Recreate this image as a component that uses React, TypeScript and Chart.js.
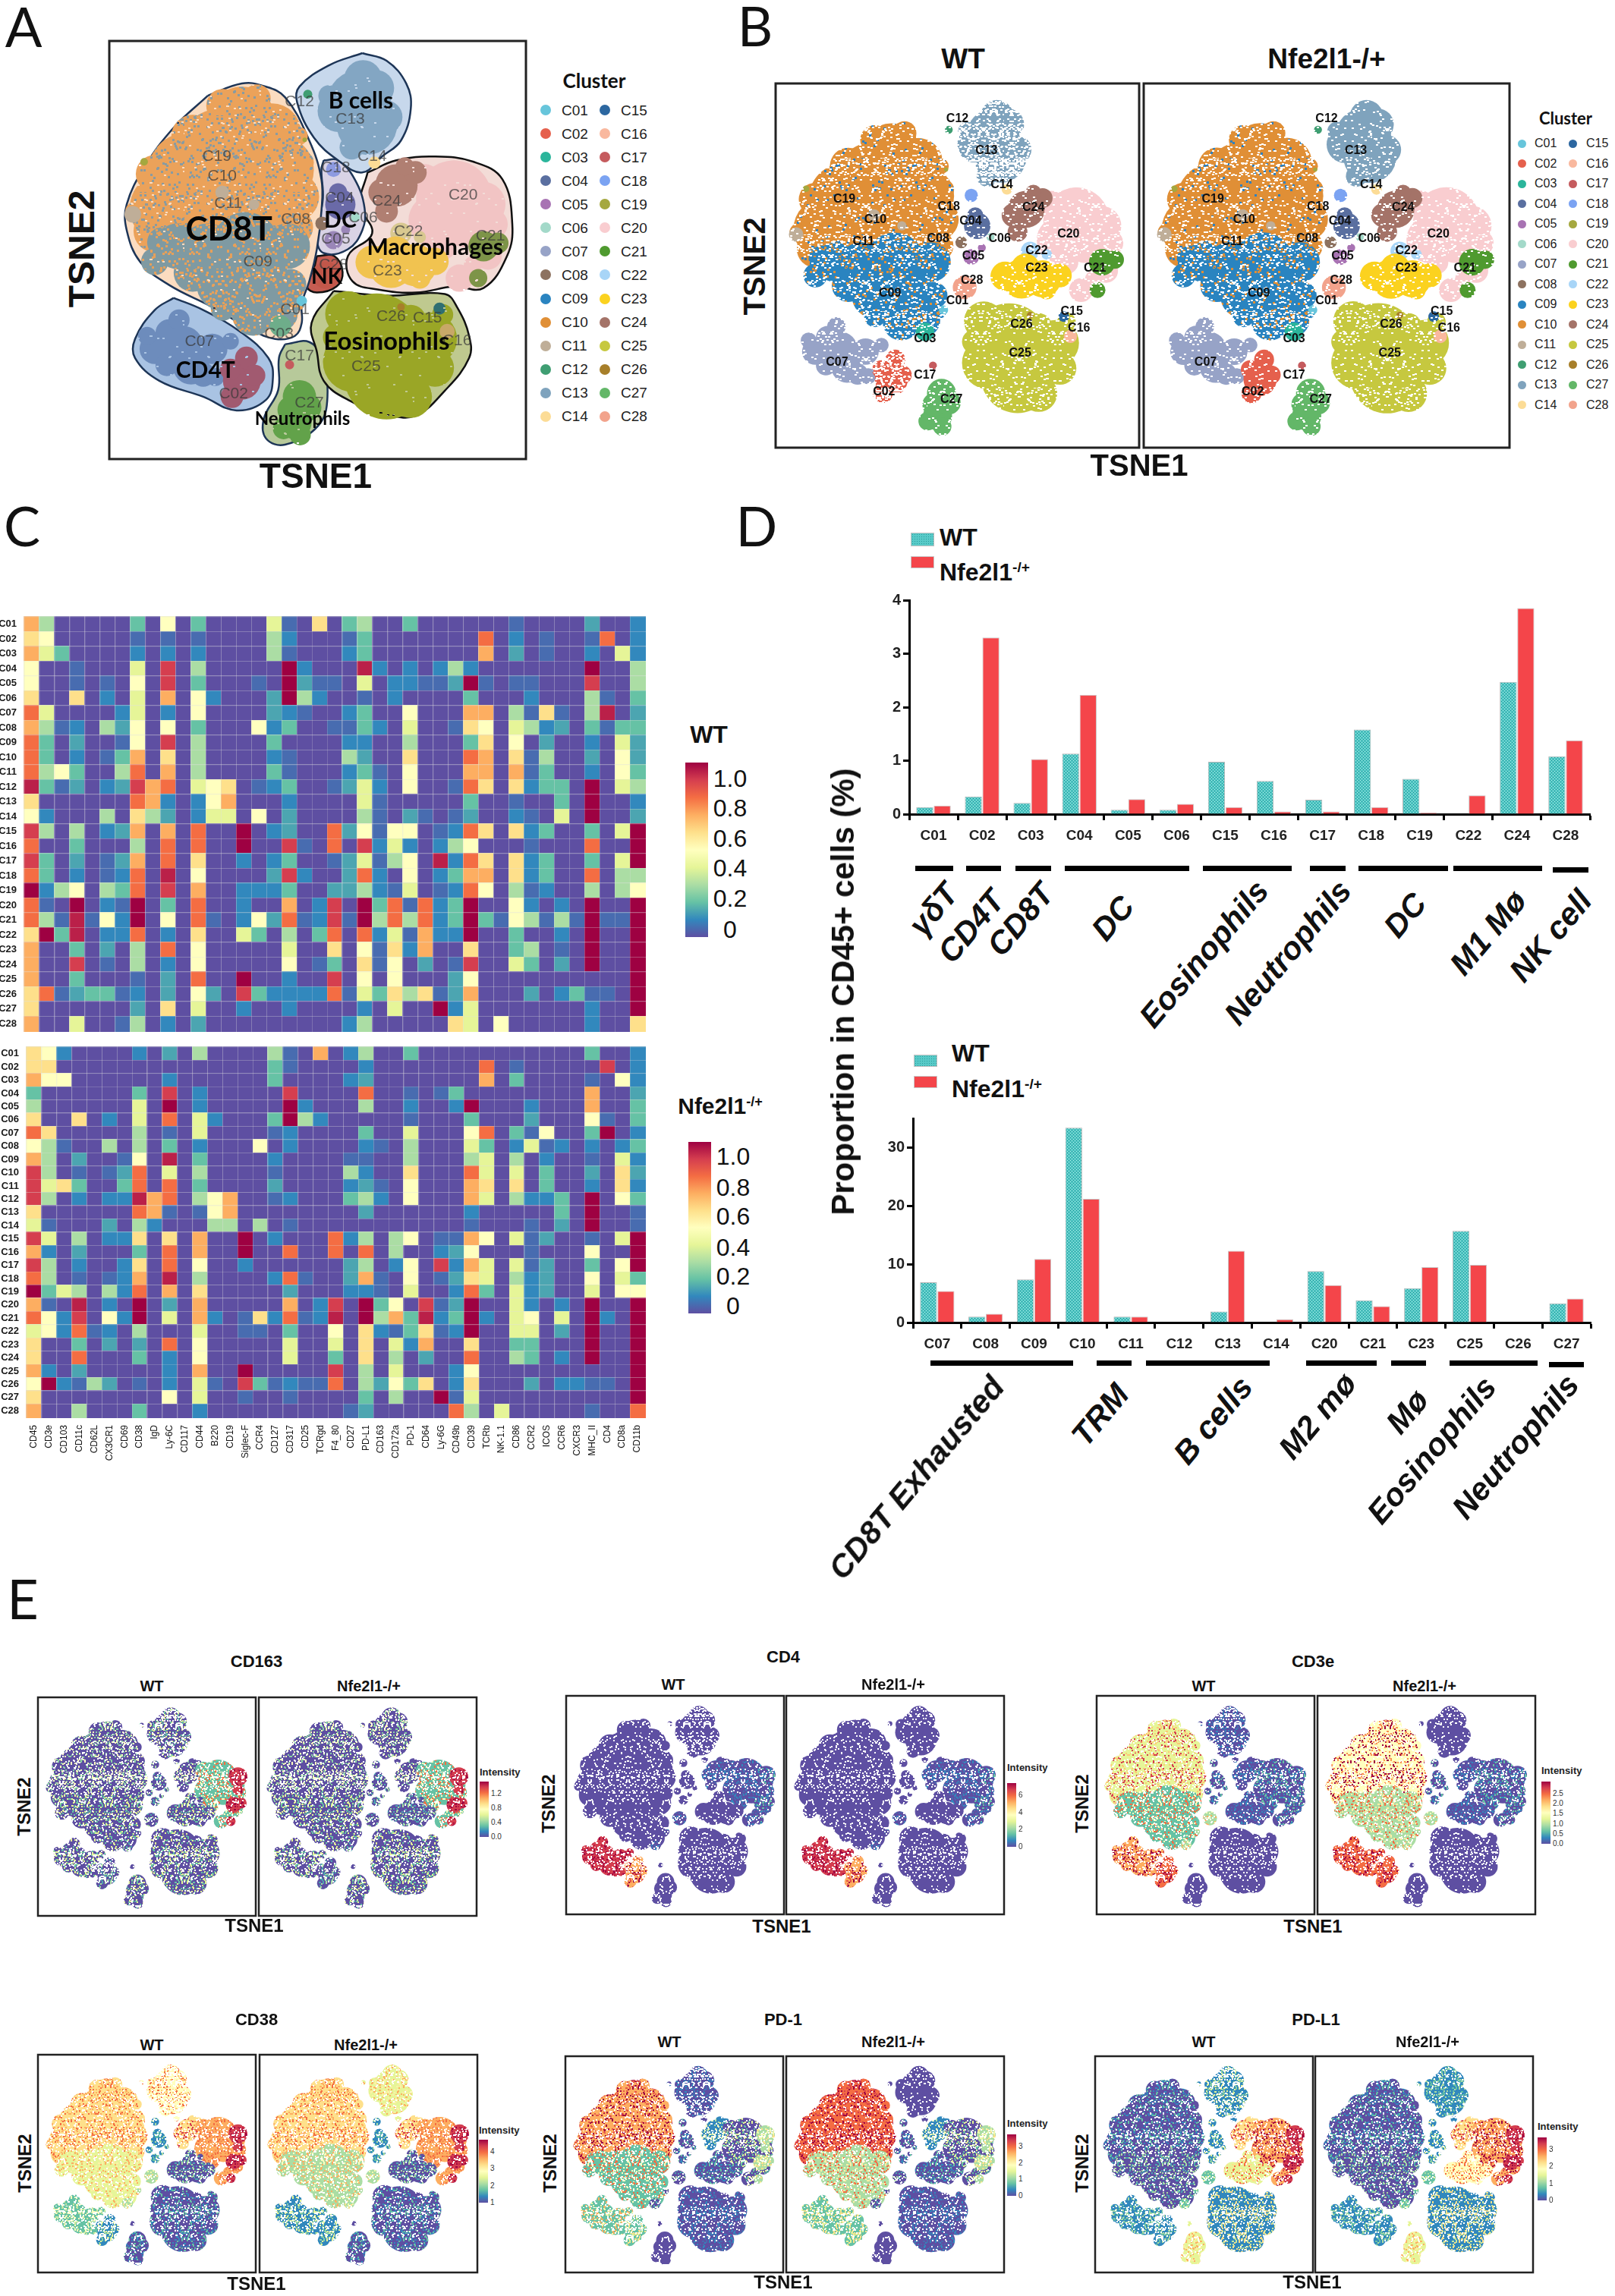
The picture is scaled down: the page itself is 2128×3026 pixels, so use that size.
import React, { useEffect, useRef } from "react";
import { Chart, registerables } from "chart.js";

Chart.register(...registerables);

const SANS = '"Liberation Sans", Arial, sans-serif';
const LATO = 'Lato, "Noto Sans", sans-serif';

/* ---------- panel C data ---------- */
const markers = ["CD45","CD3e","CD103","CD11c","CD62L","CX3CR1","CD69","CD38","IgD","Ly-6C","CD117","CD44","B220","CD19","Siglec-F","CCR4","CD127","CD317","CD25","TCRgd","F4_80","CD27","PD-L1","CD163","CD172a","PD-1","CD64","Ly-6G","CD49b","CD39","TCRb","NK-1.1","CD86","CCR2","ICOS","CCR6","CXCR3","MHC_II","CD4","CD8a","CD11b"];
const clusters = Array.from({ length: 28 }, (_, i) => "C" + String(i + 1).padStart(2, "0"));
const levelValue: Record<string, number> = { "0": 0, b: 0.05, "1": 0.1, c: 0.15, "2": 0.2, "3": 0.3, "4": 0.4, "5": 0.5, "6": 0.6, "7": 0.7, "8": 0.8, "9": 0.9, y: 0.95, x: 1 };

const heatWT = [
"73000 00205 02000 04b06 02300 20000 00b00 00c00 1",
"65000 00b0b 0b000 03100 0b200 00000 8010b 00b80 1",
"74200 00101 01000 03b00 01200 00000 70c0b 00104 1",
"500b0 00409 03000 00x10 00y10 10131 00000 00x00 3",
"500b0 b0509 02000 b0xcb b0401 1bbcx b0bb0 00900 3",
"60060 10407 05100 0cx31 00b01 00002 00010 003b0 2",
"84000 01401 05000 0c1b0 01200 50007 703b6 b03y0 c",
"73b10 3c505 02000 51200 bb210 400b6 50431 c02b2 2",
"820c0 0b509 03000 02000 01100 30002 6050c 00104 c",
"82010 b2706 03000 01b00 03c00 60008 706b3 00c05 c",
"83520 03807 03000 02b00 012b0 50007 707b2 00105 2",
"y2bc0 1c978 04560 b1200 bc410 500b8 60612 20x04 3",
"60000 00871 01570 00100 004b0 00002 00b00 20x00 1",
"51000 3063c 01440 50c00 003b0 cb0bc 001b0 40x00 c",
"93030 1c707 0800x 01c00 8c5b5 50b18 60612 00204 x",
"80020 00308 0800x 009b0 80914 10135 000b0 00800 x",
"920c0 bc708 06001 01200 bc4b3 50y18 60612 00204 x",
"82010 b180y 05000 0c910 0c810 50127 70612 00803 3",
"x1350 32809 07001 11200 cc31b 40b18 503b1 00303 5",
"8b0x0 1bx02 08001 00701 90x28 b812x 00510 10x00 x",
"83byb 51x05 08b01 5c8b1 9bx38 3812x 2b53b 3bxbb x",
"6x2y0 11801 06004 20302 80814 b711x 00200 10x00 x",
"70020 c0308 05000 00400 605b6 17006 00230 b0x00 x",
"70090 b0301 05000 0050b 206b5 0c0b9 00420 c0x00 x",
"70020 00b0c 0800x 00100 90505 000c5 00000 00000 x",
"68bc2 2b10c 05c09 21111 8b426 36bc7 000c0 12bb0 x",
"60000 00c06 04001 00100 00104 00x14 00000 00100 x",
"70040 0b301 0c000 00000 01300 00064 05000 00100 6",
].map((r) => r.replace(/ /g, ""));

const heatKO = [
"65100 0010c 03000 03b07 01300 20000 00000 00200 1",
"66000 00000 00000 02b00 00100 00000 80b00 00090 1",
"75500 00001 00000 02000 01c00 00000 70200 00b05 1",
"20000 00209 01000 00900 00800 b0b20 00000 00700 c",
"30000 0040x 01000 00x10 00300 1001x 00010 00700 2",
"60060 10408 04100 02x31 00000 b0002 000c0 005b0 2",
"86000 0030b 04000 0b100 00200 40005 802b5 002x0 1",
"53b00 30302 01000 50100 001b0 30004 2014b 10101 2",
"730c0 0b50y 02000 01000 0bb00 30003 40301 00b04 1",
"930b0 bc804 03000 0b000 03100 60008 40402 00c06 c",
"94620 02808 02000 0c000 01cb0 50007 60602 00106 1",
"93010 11y78 03570 0b100 02310 50007 40311 20x05 2",
"60000 0087b 0b570 00000 00c00 00001 00000 20x00 b",
"4b000 c0310 00330 30b00 00000 0000b 000b0 c0x00 b",
"94030 11606 0700x 01000 81303 50bb7 504bc 00b04 x",
"710c0 00208 0700x 00800 80803 001c5 000b0 00500 x",
"93010 01608 05001 00000 0c301 50917 404bc 00205 x",
"830b0 b170y 03000 018b0 0c7b0 50bc6 4031c 00504 2",
"x2430 31807 06000 00c00 011b0 40018 2041c 00405 5",
"7b0y0 10x0c 07000 00701 90x25 09bcx 00410 10x00 x",
"85190 51x04 0710b 618b1 y0x37 2y12x 10450 40x10 x",
"4518b 10300 0400b b0200 5061b 26b1x 00440 c0x00 x",
"60020 c0c08 05000 00400 40604 17006 00220 00x00 x",
"60080 00201 05000 00400 20603 0c008 00320 10x00 x",
"710c0 00001 0700x 00000 90304 00015 00000 00000 x",
"5x1b3 c0b01 04b09 2b1bb 803c5 26016 000c0 11bb0 x",
"60000 00005 0400b 00b00 00203 00xb4 00000 00000 x",
"70030 00200 01000 00000 0bc00 00083 04000 00b00 8",
].map((r) => r.replace(/ /g, ""));

/* ---------- panel D data ---------- */
const catsD1 = ["C01","C02","C03","C04","C05","C06","C15","C16","C17","C18","C19","C22","C24","C28"];
const wtD1 = [0.13,0.33,0.21,1.13,0.08,0.08,0.98,0.62,0.27,1.58,0.66,0,2.47,1.08];
const koD1 = [0.16,3.3,1.03,2.23,0.28,0.19,0.13,0.05,0.05,0.13,0.03,0.35,3.85,1.38];
const catsD2 = ["C07","C08","C09","C10","C11","C12","C13","C14","C20","C21","C23","C25","C26","C27"];
const wtD2 = [6.9,1,7.4,33.4,1,0,1.9,0,8.8,3.8,5.9,15.7,0,3.3];
const koD2 = [5.4,1.5,10.9,21.2,1,0,12.3,0.55,6.4,2.8,9.5,9.9,0,4.1];

/* ---------- tSNE map, read as circles of cells (x, y, radius in map units) ---------- */
type B = [number, number, number];
const blobsC10: B[] = [[175,105,45],[215,120,38],[150,150,62],[225,170,45],[105,175,55],[75,220,48],[150,225,68],[245,205,32],[245,245,24],[60,250,28],[115,255,30],[205,245,35],[110,125,28],[60,175,25],[255,160,15],[250,125,12],[35,225,14],[150,85,22],[195,75,18]];
const blobsC09: B[] = [[90,270,30],[130,280,40],[180,270,45],[235,270,30],[110,305,25],[150,320,35],[200,320,40],[240,320,20],[190,360,28],[225,358,24],[60,290,18],[150,352,16],[248,345,10],[70,265,20]];
const blobsC11: B[] = [[31,228,11],[149,199,9],[191,215,7]];
const blobsC19: B[] = [[46,159,5],[258,130,3]];
const blobsC13: B[] = [[335,50,25],[330,80,42],[340,110,40],[320,140,16],[303,92,28],[365,100,22],[352,62,24],[290,72,14]];
const blobsC12: B[] = [[262,70,6]];
const blobsC14: B[] = [[350,160,8]];
const blobsC18: B[] = [[296,169,10]];
const blobsC04: B[] = [[305,215,20],[302,199,12]];
const blobsC05: B[] = [[296,262,12],[312,248,6]];
const blobsC06: B[] = [[325,232,6]];
const blobsC08: B[] = [[281,240,9]];
const blobsC24: B[] = [[379,190,28],[360,199,18],[404,173,15],[366,224,15],[390,165,12]];
const blobsC20: B[] = [[455,207,50],[493,215,30],[430,236,35],[468,241,30],[417,182,20],[455,182,25],[500,283,18],[462,312,18],[506,241,20],[440,270,18],[480,295,12]];
const blobsC21: B[] = [[494,270,20],[513,266,14],[487,312,12]];
const blobsHot: B[] = [[505,200,24],[505,232,14]];
const blobsC22: B[] = [[385,253,14],[410,258,8]];
const blobsC23: B[] = [[372,295,30],[404,295,28],[347,291,22],[378,279,22],[430,290,18],[410,312,14]];
const blobsC28: B[] = [[286,308,18]];
const blobsC01: B[] = [[254,342,7]];
const blobsC03: B[] = [[226,375,14]];
const blobsC07: B[] = [[79,384,18],[92,367,14],[98,401,26],[136,405,20],[60,405,20],[124,439,16],[108,428,24],[76,426,15],[140,442,12],[160,395,11],[50,388,12]];
const blobsC02: B[] = [[175,447,25],[181,417,15],[162,468,15],[192,440,14],[160,432,14]];
const blobsC25: B[] = [[353,392,60],[315,359,30],[366,443,55],[322,422,40],[398,468,28],[424,392,35],[430,430,25],[360,359,22],[398,367,20],[300,390,18],[440,360,14],[335,455,22]];
const blobsC15: B[] = [[436,352,8]];
const blobsC16: B[] = [[446,382,10]];
const blobsC26: B[] = [[385,350,5]];
const blobsC17: B[] = [[238,426,6]];
const blobsC27: B[] = [[251,468,22],[245,502,22],[230,510,14],[262,482,18],[252,518,14],[240,485,18]];

const clusterBlobs: Record<string, B[]> = { C01: blobsC01, C02: blobsC02, C03: blobsC03, C04: blobsC04, C05: blobsC05, C06: blobsC06, C07: blobsC07, C08: blobsC08, C09: blobsC09, C10: blobsC10, C11: blobsC11, C12: blobsC12, C13: blobsC13, C14: blobsC14, C15: blobsC15, C16: blobsC16, C17: blobsC17, C18: blobsC18, C19: blobsC19, C20: blobsC20, C21: blobsC21, C22: blobsC22, C23: blobsC23, C24: blobsC24, C25: blobsC25, C26: blobsC26, C27: blobsC27, C28: blobsC28 };

const drawOrder = ["C10","C09","C11","C19","C13","C12","C14","C20","C24","C22","C23","C21","C04","C05","C06","C18","C08","C28","C01","C03","C07","C02","C25","C26","C15","C16","C17","C27"];

const legendColors: Record<string, string> = { C01:"#67c5db",C02:"#e5604d",C03:"#2bb59b",C04:"#5a6fa0",C05:"#a873b3",C06:"#a3d9c9",C07:"#97a3c7",C08:"#8d7260",C09:"#2a84c0",C10:"#e08f36",C11:"#bfae98",C12:"#3f9e72",C13:"#7fa3bd",C14:"#fcdc96",C15:"#2c67a0",C16:"#f9b89e",C17:"#c55b5e",C18:"#7ba3f2",C19:"#a5a83f",C20:"#f9cdd0",C21:"#4f9a2f",C22:"#a8d5f7",C23:"#fbd21f",C24:"#a47368",C25:"#c6c83f",C26:"#a77f2a",C27:"#63b768",C28:"#f2a38c" };
const mutedColors: Record<string, string> = { ...legendColors, C02:"#a15a70",C04:"#6a6aa8",C05:"#9a86b8",C07:"#6d8cbc",C09:"#7f9aa2",C10:"#eba25a",C13:"#83a6c3",C20:"#f2c4c4",C21:"#7d9448",C23:"#f1c350",C24:"#b07f72",C25:"#9aa626",C27:"#62a24a",C28:"#c2574a",C22:"#d8c890",C18:"#8d9ae0",C16:"#c8a868",C15:"#2f6f72",C03:"#6ead8a" };

type H = { name: string; pts: [number, number][]; fill: string; line: string };
const hulls: H[] = [
  { name: "CD8T", fill: "#fbdcc0", line: "#1d3557", pts: [[130,72],[175,56],[203,59],[232,74],[264,131],[280,182],[280,224],[274,274],[264,316],[254,346],[254,371],[245,388],[219,392],[188,380],[136,350],[79,321],[41,291],[23,249],[23,215],[47,165],[85,114],[130,72]] },
  { name: "B cells", fill: "#c7d8ec", line: "#1d3557", pts: [[334,16],[366,26],[392,56],[398,89],[385,131],[360,152],[334,173],[302,157],[270,127],[248,81],[251,60],[290,32],[334,16]] },
  { name: "DC", fill: "#d9d3e5", line: "#1d3557", pts: [[283,157],[302,157],[324,182],[337,220],[334,249],[315,274],[283,279],[274,258],[282,207],[280,169],[283,157]] },
  { name: "NK", fill: "#c65d52", line: "#111111", pts: [[274,283],[297,283],[308,304],[300,323],[274,331],[261,323],[270,300],[274,283]] },
  { name: "Macrophages", fill: "#f3dcd7", line: "#111111", pts: [[341,173],[379,157],[430,152],[481,159],[519,182],[532,241],[525,283],[494,325],[455,323],[405,331],[354,327],[321,316],[315,283],[347,253],[331,216],[341,173]] },
  { name: "Eosinophils", fill: "#bfc98f", line: "#111111", pts: [[296,329],[366,335],[443,333],[459,350],[475,388],[475,417],[443,460],[404,493],[366,491],[315,472],[283,447],[274,409],[267,371],[296,329]] },
  { name: "CD4T", fill: "#a9c3e3", line: "#1d3557", pts: [[85,338],[124,354],[175,384],[210,417],[216,443],[207,472],[168,486],[124,468],[66,447],[34,417],[34,392],[60,354],[85,338]] },
  { name: "Neutrophils", fill: "#b7c99a", line: "#1d3557", pts: [[232,399],[264,396],[280,417],[288,468],[276,506],[232,531],[207,523],[204,497],[223,459],[224,417],[232,399]] },
];

type L = [string, number, number];
const labelsA: L[] = [["C12",251,80],["C13",318,103],["C14",347,152],["C18",299,167],["C19",142,152],["C10",149,178],["C11",157,214],["C04",304,207],["C24",366,211],["C20",467,203],["C08",246,235],["C06",335,233],["C22",395,251],["C21",503,257],["C05",299,261],["C09",196,291],["C23",367,303],["C28",296,295],["C01",245,354],["C26",372,363],["C15",420,365],["C16",459,394],["C03",224,386],["C07",119,395],["C25",339,428],["C17",251,414],["C02",164,464],["C27",264,476]];
const namesA: any[] = [["CD8T",158,248,44],["B cells",332,79,30],["DC",305,236,30],["NK",287,310,28],["Macrophages",430,272,30],["Eosinophils",366,396,33],["CD4T",127,434,30],["Neutrophils",255,497,24]];
const labelsB: L[] = [["C12",275,53],["C13",319,102],["C14",342,153],["C19",104,175],["C10",151,206],["C18",262,186],["C04",295,208],["C24",390,188],["C11",133,239],["C08",246,235],["C06",339,235],["C20",443,228],["C05",299,261],["C22",395,253],["C23",395,279],["C21",483,279],["C28",297,297],["C09",173,317],["C01",275,328],["C26",372,364],["C15",448,344],["C16",459,370],["C03",226,386],["C25",370,408],["C07",93,421],["C02",164,466],["C17",226,441],["C27",266,477]];

/* ---------- panel E: low and high intensity level of each cell group ---------- */
const regionBlobs: B[][] = [
  [...blobsC10, ...blobsC11, ...blobsC19],
  blobsC09,
  [...blobsC13, ...blobsC12, ...blobsC14],
  [...blobsC04, ...blobsC05, ...blobsC06, ...blobsC18, ...blobsC08],
  blobsC24,
  blobsC20,
  [...blobsC21, ...blobsHot],
  [...blobsC23, ...blobsC22],
  [...blobsC25, ...blobsC26, ...blobsC15, ...blobsC16],
  blobsC07,
  blobsC02,
  [...blobsC27, ...blobsC17],
  [...blobsC01, ...blobsC03, ...blobsC28],
];
const cd163WT = ["05","04","04","03","05","28","9x","04","04","04","03","04","03"];
const cd163KO = ["05","04","05","03","05","28","9x","03","04","04","03","04","03"];
const cd4WT = ["00","00","00","00","01","01","02","00","00","9x","7x","00","01"];
const cd4KO = ["00","00","00","00","01","01","02","00","00","9x","7x","00","01"];
const cd3eWT = ["49","28","01","02","01","02","02","01","00","7x","8x","00","37"];
const cd3eKO = ["5x","38","00","02","01","02","02","01","00","8x","8x","00","37"];
const cd38WT = ["68","47","58","13","69","78","9x","03","02","25","14","02","36"];
const cd38KO = ["68","37","47","13","69","78","9x","03","02","14","14","02","36"];
const pd1WT = ["7x","28","01","02","15","04","36","02","01","27","26","00","03"];
const pd1KO = ["8x","38","00","02","15","04","36","02","01","26","26","00","03"];
const pdl1WT = ["02","03","14","14","69","7x","9x","48","16","13","13","47","24"];
const pdl1KO = ["02","03","13","14","69","7x","9x","58","16","13","13","47","24"];

const panelsE = [
  { name:"CD163", wt:cd163WT, ko:cd163KO, ticks:["1.2","0.8","0.4","0.0"], fx:[50,341], fw:287, fy:2237, fh:288, title:[338,2190], wl:200, kl:486, hy:2222, t1:[335,2538], t2:[32,2381], cb:[632,2336,2348,2421] },
  { name:"CD4", wt:cd4WT, ko:cd4KO, ticks:["6","4","2","0"], fx:[746,1036], fw:287, fy:2235, fh:288, title:[1032,2184], wl:887, kl:1177, hy:2220, t1:[1030,2539], t2:[723,2377], cb:[1327,2330,2350,2434] },
  { name:"CD3e", wt:cd3eWT, ko:cd3eKO, ticks:["2.5","2.0","1.5","1.0","0.5","0.0"], fx:[1445,1736], fw:287, fy:2235, fh:288, title:[1730,2190], wl:1586, kl:1877, hy:2222, t1:[1730,2539], t2:[1426,2377], cb:[2031,2334,2348,2430] },
  { name:"CD38", wt:cd38WT, ko:cd38KO, ticks:["4","3","2","1"], fx:[50,342], fw:287, fy:2708, fh:287, title:[338,2662], wl:200, kl:482, hy:2695, t1:[338,3010], t2:[33,2851], cb:[631,2808,2820,2903] },
  { name:"PD-1", wt:pd1WT, ko:pd1KO, ticks:["3","2","1","0"], fx:[745,1036], fw:287, fy:2710, fh:285, title:[1032,2662], wl:882, kl:1177, hy:2691, t1:[1032,3008], t2:[725,2851], cb:[1327,2799,2813,2894] },
  { name:"PD-L1", wt:pdl1WT, ko:pdl1KO, ticks:["3","2","1","0"], fx:[1443,1733], fw:287, fy:2710, fh:285, title:[1734,2662], wl:1586, kl:1881, hy:2691, t1:[1729,3008], t2:[1426,2851], cb:[2026,2803,2817,2900] },
];

/* ---------- helpers ---------- */
const spectral = ["#5e4fa2","#3288bd","#66c2a5","#abdda4","#e6f598","#ffffbf","#fee08b","#fdae61","#f46d43","#d53e4f","#9e0142"];
function hex(c: string) { return [1, 3, 5].map((i) => parseInt(c.slice(i, i + 2), 16)); }
function levelColor(v: number) {
  const p = Math.min(Math.max(v, 0), 1) * 10;
  const i = Math.min(Math.floor(p), 9);
  const a = hex(spectral[i]), b = hex(spectral[i + 1]);
  const t = p - i;
  return `rgb(${a.map((q, k) => Math.round(q + (b[k] - q) * t)).join(",")})`;
}
const TILE = 101;
const patternCache: Record<string, CanvasPattern> = {};
/* fill texture only: a fixed stipple that gives the look of many single cells */
function speckle(lo: string, hi: string, gaps: number, accents: number, mid: string = hi, dot = 3, gapW = 3) {
  const key = [lo, hi, mid, gaps, accents, dot, gapW].join("|");
  if (patternCache[key]) return patternCache[key];
  const c = document.createElement("canvas");
  c.width = TILE; c.height = TILE;
  const g = c.getContext("2d")!;
  g.fillStyle = lo; g.fillRect(0, 0, TILE, TILE);
  for (let i = 0; i < accents * 7; i++) {
    g.fillStyle = i % 2 ? hi : mid;
    g.fillRect((i * 41 + 3) % TILE, ((i * i * 7 + i) % 211) % TILE, dot, dot);
  }
  for (let i = 0; i < gaps * 7; i++) g.clearRect((i * 59 + 21) % TILE, ((i * i * 11 + i * 3) % 223) % TILE, gapW, 2);
  return (patternCache[key] = g.createPattern(c, "repeat")!);
}
const heatTiles: Record<string, HTMLCanvasElement> = {};
function heatTile(v: number, w: number, h: number) {
  const key = `${v}|${w}|${h}`;
  if (heatTiles[key]) return heatTiles[key];
  const c = document.createElement("canvas");
  c.width = w; c.height = h;
  const g = c.getContext("2d")!;
  g.fillStyle = levelColor(v); g.fillRect(0, 0, w, h);
  g.fillStyle = "rgba(225,225,225,0.42)";
  g.fillRect(0, 0, w, 1); g.fillRect(0, 0, 1, h);
  return (heatTiles[key] = c);
}

function useChart(make: (c: HTMLCanvasElement) => any) {
  const ref = useRef<HTMLCanvasElement>(null);
  useEffect(() => {
    const chart = new Chart(ref.current!, make(ref.current!));
    return () => chart.destroy();
  }, []);
  return ref;
}

function T({ x, y, size, weight = 400, family = SANS, rot = 0, italic = false, color = "#111", children, end = false }: any) {
  const transform = end ? `translate(-100%,-50%) rotate(${rot}deg)` : `translate(-50%,-50%) rotate(${rot}deg)`;
  return (
    <div style={{ position: "absolute", left: x, top: y, fontSize: size, fontWeight: weight, fontFamily: family, fontStyle: italic ? "italic" : "normal", color, whiteSpace: "nowrap", lineHeight: 1, transform, transformOrigin: end ? "100% 50%" : "50% 50%" }}>{children}</div>
  );
}
const Sup = ({ children }: any) => <sup style={{ fontSize: "0.6em", verticalAlign: "0.55em", lineHeight: 0 }}>{children}</sup>;

/* ---------- tSNE panel ---------- */
function Tsne({ left, top, size, heightPx, layers, outline, labels, names, labelFont, labelColor, frame = 3 }: any) {
  const ref = useChart(() => {
    const k = (size - 4) / 550;
    const ds: any[] = [];
    (outline || []).forEach((h: H) => ds.push({ type: "line", order: 1000, data: h.pts.map(([x, y]) => ({ x, y })), backgroundColor: h.fill, borderColor: h.line, borderWidth: 2.5, pointRadius: 0, tension: 0.4, fill: "shape" }));
    layers.forEach((l: any, i: number) => ds.push({ type: "bubble", order: 500 - i, data: l.blobs.map(([x, y, r]: B) => ({ x, y, r: r * k })), backgroundColor: l.fill, borderWidth: 0, clip: false }));
    return {
      type: "bubble",
      data: { datasets: ds },
      options: {
        responsive: false, animation: false, events: [],
        layout: { padding: 2, autoPadding: false },
        plugins: { legend: { display: false }, tooltip: { enabled: false } },
        scales: {
          x: { type: "linear", min: 0, max: 550, display: false },
          y: { type: "linear", min: 0, max: 550, reverse: true, display: false },
        },
      },
      plugins: [{
        id: "panelDecor",
        afterDatasetsDraw(chart: any) {
          const { ctx, chartArea: a, scales: { x, y } } = chart;
          ctx.save();
          ctx.strokeStyle = "#222"; ctx.lineWidth = frame;
          ctx.strokeRect(a.left, a.top, a.right - a.left, a.bottom - a.top);
          ctx.textAlign = "center"; ctx.textBaseline = "middle";
          if (labels) {
            ctx.font = labelFont; ctx.fillStyle = labelColor;
            labels.forEach(([t, px, py]: L) => ctx.fillText(t, x.getPixelForValue(px), y.getPixelForValue(py)));
          }
          if (names) {
            ctx.fillStyle = "#050505";
            names.forEach(([t, px, py, s]: any) => { ctx.font = `700 ${s}px ${LATO}`; ctx.fillText(t, x.getPixelForValue(px), y.getPixelForValue(py)); });
          }
          ctx.restore();
        },
      }],
    };
  });
  return <canvas ref={ref} width={size} height={heightPx} style={{ position: "absolute", left, top, width: size, height: heightPx }} />;
}

function layersA() {
  return drawOrder.map((c) => ({
    blobs: clusterBlobs[c],
    fill: c === "C10" ? speckle(mutedColors.C10, "#8a9ba0", 8, 26) : c === "C09" ? speckle(mutedColors.C09, "#e6a05a", 4, 34) : speckle(mutedColors[c], mutedColors[c], 4, 0),
  }));
}
function layersB(ko: boolean) {
  const sparseWT = ["C13", "C02"];
  return drawOrder.map((c) => {
    const sparse = !ko && sparseWT.includes(c);
    const col = legendColors[c];
    const fill = c === "C10" ? speckle(col, "#2f81bf", 46, 8) : c === "C09" ? speckle(col, "#e08f36", 60, 18) : speckle(col, col, sparse ? 150 : 34, 0);
    return { blobs: clusterBlobs[c], fill };
  });
}
function layersE(levels: string[], ko: boolean) {
  return regionBlobs.map((blobs, i) => {
    const a = levelValue[levels[i][0]];
    const b = levelValue[levels[i][1]];
    const lo = levelColor(a);
    const hi = levelColor(b);
    const mid = levelColor((a + b) / 2);
    const sparse = !ko && (i === 2 || i === 10);
    return { blobs, fill: speckle(lo, hi, sparse ? 170 : 70, a === b ? 0 : 130, mid, 2, 2) };
  });
}

/* ---------- heatmap ---------- */
function Heat({ top, rows, rowH, yW, showX, title }: any) {
  const plotH = rowH * 28;
  const axisH = showX ? 100 : 0;
  const padT = 3;
  const H = Math.round(plotH + axisH + padT + 3);
  const ref = useChart(() => {
    const data: any[] = [];
    rows.forEach((r: string, i: number) => { for (let j = 0; j < r.length; j++) data.push({ x: markers[j], y: clusters[i], v: levelValue[r[j]] }); });
    const w = 21, h = Math.ceil(rowH) + 1;
    return {
      type: "scatter",
      data: { datasets: [{ label: title, data, clip: false, pointRadius: 10, pointStyle: (c: any) => heatTile(c.raw ? c.raw.v : 0, w, h), pointBorderWidth: 0 }] },
      options: {
        responsive: false, animation: false, events: [],
        layout: { padding: { top: padT, right: 4, bottom: showX ? 0 : 3, left: 0 } },
        plugins: { legend: { display: false }, tooltip: { enabled: false } },
        scales: {
          x: {
            type: "category", labels: markers, offset: true, display: showX,
            grid: { display: false }, border: { display: false },
            afterFit: (s: any) => { if (showX) s.height = axisH; },
            ticks: { autoSkip: false, minRotation: 90, maxRotation: 90, padding: 2, color: "#111", font: { family: SANS, size: 12 } },
          },
          y: {
            type: "category", labels: clusters, offset: true,
            grid: { display: false }, border: { display: false },
            afterFit: (s: any) => { s.width = yW; },
            ticks: { autoSkip: false, padding: 2, color: "#1a1a1a", font: { family: SANS, size: 13, weight: "bold" } },
          },
        },
      },
    };
  });
  return <canvas ref={ref} width={860} height={H} style={{ position: "absolute", left: 0, top: top - padT, width: 860, height: H }} />;
}

/* ---------- bar charts ---------- */
function teal() {
  const c = document.createElement("canvas");
  c.width = 4; c.height = 4;
  const g = c.getContext("2d")!;
  g.fillStyle = "#4fc6c4"; g.fillRect(0, 0, 4, 4);
  g.fillStyle = "#2d9c9c"; g.fillRect(0, 0, 1, 1); g.fillRect(2, 2, 1, 1);
  g.fillStyle = "#a8e8e4"; g.fillRect(2, 0, 1, 1); g.fillRect(0, 2, 1, 1);
  return g.createPattern(c, "repeat")!;
}
function Bars({ left, top, yW, plotW, plotH, cats, wt, ko, max, step }: any) {
  const W = yW + plotW + 9;
  const H = 10 + plotH + 60;
  const ref = useChart(() => ({
    type: "bar",
    data: {
      labels: cats,
      datasets: [
        { label: "WT", data: wt, backgroundColor: teal(), borderColor: "#b4b4b4", borderWidth: 1, barPercentage: 0.97, categoryPercentage: 0.72 },
        { label: "Nfe2l1-/+", data: ko, backgroundColor: "#f4454a", borderColor: "#c8c8c8", borderWidth: 1, barPercentage: 0.97, categoryPercentage: 0.72 },
      ],
    },
    options: {
      responsive: false, animation: false, events: [],
      layout: { padding: { top: 10, right: 9, bottom: 0, left: 0 } },
      plugins: { legend: { display: false }, tooltip: { enabled: false } },
      scales: {
        x: {
          afterFit: (s: any) => { s.height = 60; },
          grid: { drawOnChartArea: false, tickLength: 8, tickWidth: 3, tickColor: "#000" },
          border: { color: "#000", width: 3 },
          ticks: { autoSkip: false, maxRotation: 0, padding: 9, color: "#222", font: { family: SANS, size: 19, weight: "bold" } },
        },
        y: {
          min: 0, max,
          afterFit: (s: any) => { s.width = yW; },
          grid: { drawOnChartArea: false, tickLength: 8, tickWidth: 3, tickColor: "#000" },
          border: { color: "#000", width: 3 },
          ticks: { stepSize: step, includeBounds: false, padding: 3, color: "#222", font: { family: SANS, size: 20, weight: "bold" } },
        },
      },
    },
  }));
  return <canvas ref={ref} width={W} height={H} style={{ position: "absolute", left, top, width: W, height: H }} />;
}

const groupLines1 = [[1206,1256,1144],[1273,1319,1144],[1338,1385,1144],[1403,1567,1144],[1585,1702,1144],[1726,1773,1144],[1790,1908,1144],[1915,2032,1144],[2046,2093,1146]];
const groupLines2 = [[1226,1414,1796],[1445,1491,1796],[1510,1673,1796],[1721,1814,1796],[1833,1879,1796],[1910,2026,1796],[2041,2087,1798]];
const groupLabels1: [string, number, number][] = [["γδT",1254,1170],["CD4T",1315,1179],["CD8T",1380,1170],["DC",1486,1187],["Eosinophils",1663,1166],["Neutrophils",1772,1166],["DC",1871,1183],["M1 Mø",2003,1179],["NK cell",2089,1179]];
const groupLabels2: [string, number, number][] = [["CD8T Exhausted",1315,1820],["TRM",1479,1830],["B cells",1642,1820],["M2 mø",1779,1815],["Mø",1874,1837],["Eosinophils",1963,1820],["Neutrophils",2072,1817]];

const spectralCss = `linear-gradient(to top, ${spectral.join(",")})`;
const heatTicks = ["1.0","0.8","0.6","0.4","0.2","0"];

function Legend({ dot1, txt1, dot2, txt2, y0, step, font, dot }: any) {
  const out: any[] = [];
  clusters.forEach((c, i) => {
    const col = i < 14 ? 0 : 1;
    const y = y0 + (i % 14) * step;
    const dx = col ? dot2 : dot1, tx = col ? txt2 : txt1;
    out.push(<div key={c + "d"} style={{ position: "absolute", left: dx - dot / 2, top: y - dot / 2, width: dot, height: dot, borderRadius: "50%", background: legendColors[c] }} />);
    out.push(<div key={c} style={{ position: "absolute", left: tx, top: y - font / 2, fontFamily: SANS, fontSize: font, lineHeight: 1, color: "#222" }}>{c}</div>);
  });
  return <>{out}</>;
}

export default function App() {
  return (
    <div style={{ position: "absolute", left: 0, top: 0, width: 2128, height: 3026, background: "#fff", overflow: "hidden" }}>
      {/* panel letters */}
      <T x={31} y={34} size={72} family={LATO}>A</T>
      <T x={995} y={33} size={72} family={LATO}>B</T>
      <T x={29} y={692} size={72} family={LATO}>C</T>
      <T x={997} y={692} size={72} family={LATO}>D</T>
      <T x={30} y={2106} size={72} family={LATO}>E</T>

      {/* panel A */}
      <Tsne left={142} top={52} size={553} heightPx={555} layers={layersA()} outline={hulls} labels={labelsA} names={namesA} labelFont={`21px ${SANS}`} labelColor="rgba(55,55,55,0.72)" frame={3} />
      <T x={416} y={627} size={46} weight={700}>TSNE1</T>
      <T x={108} y={328} size={48} weight={700} rot={-90}>TSNE2</T>
      <T x={783} y={106} size={26} weight={700} family={LATO}>Cluster</T>
      <Legend dot1={719} txt1={740} dot2={797} txt2={818} y0={145} step={31.07} font={19} dot={14} />

      {/* panel B */}
      <Tsne left={1020} top={108} size={483} heightPx={484} layers={layersB(false)} labels={labelsB} labelFont={`700 16px ${SANS}`} labelColor="#111" frame={3} />
      <Tsne left={1505} top={108} size={486} heightPx={484} layers={layersB(true)} labels={labelsB} labelFont={`700 16px ${SANS}`} labelColor="#111" frame={3} />
      <T x={1269} y={77} size={37} weight={700}>WT</T>
      <T x={1748} y={77} size={37} weight={700}>Nfe2l1-/+</T>
      <T x={1501} y={613} size={40} weight={700}>TSNE1</T>
      <T x={994} y={351} size={40} weight={700} rot={-90}>TSNE2</T>
      <T x={2063} y={156} size={22} weight={700} family={LATO}>Cluster</T>
      <Legend dot1={2005} txt1={2022} dot2={2072} txt2={2090} y0={189} step={26.5} font={16} dot={11} />

      {/* panel C */}
      <Heat top={806} rows={heatWT} rowH={20} yW={32} showX={false} title="WT" />
      <Heat top={1373} rows={heatKO} rowH={17.57} yW={35} showX={true} title="Nfe2l1-/+" />
      <T x={934} y={968} size={32} weight={700}>WT</T>
      <T x={949} y={1458} size={30} weight={700}>Nfe2l1<Sup>-/+</Sup></T>
      <div style={{ position: "absolute", left: 903, top: 1005, width: 30, height: 230, background: spectralCss }} />
      <div style={{ position: "absolute", left: 907, top: 1505, width: 30, height: 226, background: spectralCss }} />
      {heatTicks.map((t, i) => <T key={t} x={962} y={[1026,1065,1105,1144,1184,1225][i]} size={32}>{t}</T>)}
      {heatTicks.map((t, i) => <T key={t + "k"} x={966} y={[1524,1565,1603,1644,1682,1721][i]} size={32}>{t}</T>)}

      {/* panel D */}
      <Bars left={1130} top={776} yW={68} plotW={897} plotH={287} cats={catsD1} wt={wtD1} ko={koD1} max={4} step={1} />
      <Bars left={1130} top={1459} yW={73} plotW={893} plotH={274} cats={catsD2} wt={wtD2} ko={koD2} max={35} step={10} />
      <T x={1111} y={1307} size={42} weight={700} rot={-90}>Proportion in CD45+ cells (%)</T>
      {[[1200,702,16,1238,708,"WT"],[1204,1390,14,1254,1388,"WT"]].map((r: any, i) => (
        <React.Fragment key={i}>
          <div style={{ position: "absolute", left: r[0], top: r[1], width: 29, height: r[2], background: "radial-gradient(circle, #2d9c9c 30%, #58cac8 34%) 0 0 / 3px 3px", border: "1px solid #c0c0c0" }} />
          <div style={{ position: "absolute", left: r[3], top: r[4] - 16, fontFamily: SANS, fontWeight: 700, fontSize: 32, lineHeight: 1, color: "#111" }}>{r[5]}</div>
        </React.Fragment>
      ))}
      {[[1200,733,14,1238,754],[1204,1418,14,1254,1435]].map((r, i) => (
        <React.Fragment key={i}>
          <div style={{ position: "absolute", left: r[0], top: r[1], width: 29, height: r[2], background: "#f4454a", border: "1px solid #c8c8c8" }} />
          <div style={{ position: "absolute", left: r[3], top: r[4] - 16, fontFamily: SANS, fontWeight: 700, fontSize: 32, lineHeight: 1, color: "#111" }}>Nfe2l1<Sup>-/+</Sup></div>
        </React.Fragment>
      ))}
      {[...groupLines1, ...groupLines2].map(([a, b, y], i) => <div key={i} style={{ position: "absolute", left: a, top: y - 3, width: b - a, height: 7, background: "#000" }} />)}
      {[...groupLabels1, ...groupLabels2].map(([t, x, y], i) => <T key={i} x={x} y={y} end rot={-50} size={42} weight={700} italic>{t}</T>)}

      {/* panel E */}
      {panelsE.map((p) => (
        <React.Fragment key={p.name}>
          <Tsne left={p.fx[0] - 2} top={p.fy - 2} size={p.fw + 4} heightPx={p.fh + 4} layers={layersE(p.wt, false)} frame={2.5} />
          <Tsne left={p.fx[1] - 2} top={p.fy - 2} size={p.fw + 4} heightPx={p.fh + 4} layers={layersE(p.ko, true)} frame={2.5} />
          <T x={p.title[0]} y={p.title[1]} size={22} weight={700}>{p.name}</T>
          <T x={p.wl} y={p.hy} size={20} weight={700}>WT</T>
          <T x={p.kl} y={p.hy} size={20} weight={700}>Nfe2l1-/+</T>
          <T x={p.t1[0]} y={p.t1[1]} size={24} weight={700}>TSNE1</T>
          <T x={p.t2[0]} y={p.t2[1]} size={24} weight={700} rot={-90}>TSNE2</T>
          <div style={{ position: "absolute", left: p.cb[0], top: p.cb[1] - 7, fontFamily: SANS, fontWeight: 700, fontSize: 13, lineHeight: 1, color: "#222" }}>Intensity</div>
          <div style={{ position: "absolute", left: p.cb[0], top: p.cb[2], width: 12, height: p.cb[3] - p.cb[2], background: spectralCss }} />
          {p.ticks.map((t, i) => (
            <div key={t} style={{ position: "absolute", left: p.cb[0] + 15, top: p.cb[2] + 16 + i * ((p.cb[3] - p.cb[2] - 16) / (p.ticks.length - 1)) - 5, fontFamily: SANS, fontSize: 10, lineHeight: 1, color: "#333" }}>{t}</div>
          ))}
        </React.Fragment>
      ))}
    </div>
  );
}
